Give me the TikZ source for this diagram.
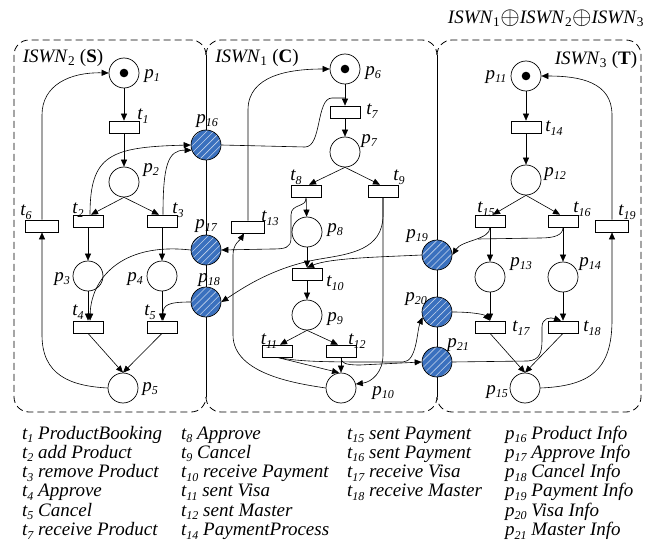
\documentclass[tikz,border=0pt]{standalone}
\usepackage{fontspec}
\setmainfont{Liberation Serif}
\usetikzlibrary{arrows.meta,patterns.meta}
\definecolor{ifblue}{RGB}{58,112,190}
% italic name with a small, lowered italic index
\newcommand\lab[2]{#1\raisebox{-3.5pt}{\fontsize{12}{12}\selectfont #2}}
\newcommand\netname[2]{\textit{ISWN}\textsubscript{#1} (\textbf{#2})}
\tikzset{
  place/.style={circle,draw,line width=0.7pt,minimum size=30pt,inner sep=0pt},
  iplace/.style={place,preaction={fill=ifblue},
    pattern={Lines[angle=45,distance=5pt,line width=0.6pt]},pattern color=white!70!ifblue},
  trans/.style={rectangle,draw,line width=0.7pt,minimum width=30pt,minimum height=12pt,inner sep=0pt},
  arc/.style={line width=0.6pt,-{Triangle[length=7pt,width=6pt]}},
  link/.style={line width=0.6pt},
  lbl/.style={font=\itshape\fontsize{19}{19}\selectfont,inner sep=0pt},
  leg/.style={lbl,anchor=base west},
  hdr/.style={font=\fontsize{19}{19}\selectfont,inner sep=0pt},
  netbox/.style={dash pattern=on 7pt off 4pt,line width=0.8pt,rounded corners=15pt},
  border/.style={line width=0.7pt},
}
\begin{document}
\begin{tikzpicture}[x=1pt,y=1pt]
\useasboundingbox (0,0) rectangle (654,-543);

% --- module frames: dashed outer sides, shared solid borders
\draw[netbox] (206,-55) |- (14,-40) |- (206,-412) -- (206,-397);
\draw[netbox] (206,-55) |- (437,-40) -- (437,-55);
\draw[netbox] (206,-397) |- (437,-412) -- (437,-397);
\draw[netbox] (437,-55) |- (641,-40) |- (437,-412) -- (437,-397);
\draw[border] (206,-55) -- (206,-397);
\draw[border] (437,-55) -- (437,-397);

\node[hdr] (title) at (546,-18)
  {\textit{ISWN}\textsubscript{1}\raisebox{-1pt}{\scalebox{1.45}{$\oplus$}}\textit{ISWN}\textsubscript{2}\raisebox{-1pt}{\scalebox{1.45}{$\oplus$}}\textit{ISWN}\textsubscript{3}};
\node[hdr] (nS) at (63,-58) {\netname{2}{S}};
\node[hdr] (nC) at (257,-58) {\netname{1}{C}};
\node[hdr] (nT) at (596,-60) {\netname{3}{T}};

% --- places
\node[place] (p1) at (124,-73) {};
\node[place] (p2) at (124,-182) {};
\node[place] (p3) at (88,-276) {};
\node[place] (p4) at (162,-276) {};
\node[place] (p5) at (123,-388) {};
\node[place] (p6) at (345,-69) {};
\node[place] (p7) at (345,-152) {};
\node[place] (p8) at (307,-232) {};
\node[place] (p9) at (307,-315) {};
\node[place] (p10) at (341,-388) {};
\node[place] (p11) at (526,-76) {};
\node[place] (p12) at (526,-180) {};
\node[place] (p13) at (490,-277) {};
\node[place] (p14) at (563,-277) {};
\node[place] (p15) at (525,-388) {};
\node[iplace] (p16) at (206,-145) {};
\node[iplace] (p17) at (206,-250) {};
\node[iplace] (p18) at (206,-302) {};
\node[iplace] (p19) at (437,-255) {};
\node[iplace] (p20) at (437,-312) {};
\node[iplace] (p21) at (437,-362) {};
\foreach \p in {p1,p6,p11} \fill (\p) circle (4.3pt);

% --- transitions
\node[trans] (t1) at (124,-127) {};
\node[trans] (t2) at (88,-221) {};
\node[trans] (t3) at (162,-221) {};
\node[trans] (t4) at (88,-327) {};
\node[trans] (t5) at (162,-327) {};
\node[trans,minimum width=33pt] (t6) at (42,-226) {};
\node[trans] (t7) at (345,-112) {};
\node[trans] (t8) at (306,-191) {};
\node[trans] (t9) at (383,-191) {};
\node[trans] (t10) at (307,-274) {};
\node[trans] (t11) at (277,-351) {};
\node[trans] (t12) at (341,-351) {};
\node[trans,minimum width=33pt] (t13) at (248,-227) {};
\node[trans] (t14) at (526,-127) {};
\node[trans] (t15) at (490,-221) {};
\node[trans] (t16) at (563,-221) {};
\node[trans] (t17) at (490,-327) {};
\node[trans] (t18) at (563,-327) {};
\node[trans,minimum width=33pt] (t19) at (612,-226) {};

% --- labels
\node[lbl] (lp1) at (152,-76) {\lab{p}{1}};
\node[lbl] (lp2) at (151,-170) {\lab{p}{2}};
\node[lbl] (lp3) at (62,-279) {\lab{p}{3}};
\node[lbl] (lp4) at (135,-279) {\lab{p}{4}};
\node[lbl] (lp5) at (150,-389) {\lab{p}{5}};
\node[lbl] (lp6) at (373,-73) {\lab{p}{6}};
\node[lbl] (lp7) at (369,-141) {\lab{p}{7}};
\node[lbl] (lp8) at (335,-230) {\lab{p}{8}};
\node[lbl] (lp9) at (335,-319) {\lab{p}{9}};
\node[lbl] (lp10) at (383,-393) {\lab{p}{10}};
\node[lbl] (lp11) at (496,-77) {\lab{p}{11}};
\node[lbl] (lp12) at (555,-174) {\lab{p}{12}};
\node[lbl] (lp13) at (521,-264) {\lab{p}{13}};
\node[lbl] (lp14) at (590,-264) {\lab{p}{14}};
\node[lbl] (lp15) at (497,-392) {\lab{p}{15}};
\node[lbl] (lp16) at (207,-121) {\lab{p}{16}};
\node[lbl] (lp17) at (206,-226) {\lab{p}{17}};
\node[lbl] (lp18) at (209,-280) {\lab{p}{18}};
\node[lbl] (lp19) at (417,-236) {\lab{p}{19}};
\node[lbl] (lp20) at (416,-299) {\lab{p}{20}};
\node[lbl] (lp21) at (458,-345) {\lab{p}{21}};
\node[lbl] (lt1) at (143,-116) {\lab{t}{1}};
\node[lbl] (lt2) at (78,-210) {\lab{t}{2}};
\node[lbl] (lt3) at (178,-210) {\lab{t}{3}};
\node[lbl] (lt4) at (78,-312) {\lab{t}{4}};
\node[lbl] (lt5) at (150,-312) {\lab{t}{5}};
\node[lbl] (lt6) at (26,-212) {\lab{t}{6}};
\node[lbl] (lt7) at (372,-111) {\lab{t}{7}};
\node[lbl] (lt8) at (296,-177) {\lab{t}{8}};
\node[lbl] (lt9) at (399,-177) {\lab{t}{9}};
\node[lbl] (lt10) at (335,-283) {\lab{t}{10}};
\node[lbl] (lt11) at (269,-341) {\lab{t}{11}};
\node[lbl] (lt12) at (357,-341) {\lab{t}{12}};
\node[lbl] (lt13) at (270,-218) {\lab{t}{13}};
\node[lbl] (lt14) at (554,-128) {\lab{t}{14}};
\node[lbl] (lt15) at (486,-209) {\lab{t}{15}};
\node[lbl] (lt16) at (582,-209) {\lab{t}{16}};
\node[lbl] (lt17) at (521,-328) {\lab{t}{17}};
\node[lbl] (lt18) at (592,-328) {\lab{t}{18}};
\node[lbl] (lt19) at (627,-212) {\lab{t}{19}};

% --- arcs of ISWN2 (S)
\draw[arc] (p1) -- (t1);
\draw[arc] (t1) -- (p2);
\draw[arc] (p2.south) -- ([xshift=3pt]t2.north);
\draw[arc] (p2.south) -- ([xshift=-3pt]t3.north);
\draw[arc] (t2) -- (p3);
\draw[arc] (t3) -- (p4);
\draw[arc] (p3) -- (t4);
\draw[arc] (p4) -- (t5);
\draw[arc] (t4.south) -- (p5.north);
\draw[arc] (t5.south) -- (p5.north);
\draw[arc] (p5.west) .. controls (70,-386) and (42,-375) .. (42,-335) -- (t6.south);
\draw[arc] (t6.north) -- (42,-115) .. controls (42,-85) and (70,-72) .. (p1.west);
\draw[arc] ([xshift=2pt]t2.north) .. controls (90,-155) and (110,-147) .. (p16.west);
\draw[arc] ([xshift=1pt]t3.north) .. controls (163,-165) and (168,-150) .. (p16.200);
\draw[arc] (p17.west) .. controls (120,-242) and (91,-280) .. ([xshift=2pt]t4.north);
\draw[arc] (p18.west) .. controls (168,-302) and (163,-305) .. ([xshift=1pt]t5.north);

% --- arcs of ISWN1 (C)
\draw[arc] (p6) -- (t7);
\draw[arc] (t7) -- (p7);
\draw[arc] (p7.south) -- ([xshift=3pt]t8.north);
\draw[arc] (p7.south) -- ([xshift=-3pt]t9.north);
\draw[arc] (t8) -- (p8);
\draw[arc] (p8) -- (t10);
\draw[arc] (t10) -- (p9);
\draw[arc] (p9.south) -- ([xshift=3pt]t11.north);
\draw[arc] (p9.south) -- ([xshift=-3pt]t12.north);
\draw[link] (p16.east) -- (305,-147) .. controls (322,-147) and (316,-98) .. (332,-98) -- (345,-98);
\draw[arc] (t13.north) -- (248,-110) .. controls (248,-75) and (290,-69) .. (p6.west);
\draw[arc] (t8.south) .. controls (307,-208) and (291,-203) .. (291,-215) -- (291,-238)
  .. controls (291,-248) and (285,-249) .. (272,-249) -- (p17.east);
\draw[arc] (t9.south) -- (383,-215) .. controls (383,-250) and (350,-254) .. (320,-259)
  .. controls (272,-267) and (240,-290) .. (p18.east);
\draw[arc] (p19.west) .. controls (380,-257) and (330,-258) .. (t10.north);
\draw[arc] (t9.south) -- (383,-355) .. controls (383,-372) and (372,-382) .. (p10.15);
\draw[arc] (t11.south) -- ([xshift=-2pt]p10.north);
\draw[arc] (t12.south) -- (p10.north);
\draw[arc] (p10.west) .. controls (300,-384) and (233,-375) .. (233,-335) -- (233,-255)
  .. controls (233,-244) and (240,-240) .. ([xshift=-4pt]t13.south);
\draw[arc] (t11.south) .. controls (300,-362) and (330,-362) .. (380,-362) -- (403,-362)
  .. controls (417,-362) and (417,-330) .. (p20.200);
\draw[arc] (t12.south) .. controls (341,-363) and (345,-365) .. (360,-365) -- (p21.west);

% --- arcs of ISWN3 (T)
\draw[arc] (p11) -- (t14);
\draw[arc] (t14) -- (p12);
\draw[arc] (p12.south) -- ([xshift=3pt]t15.north);
\draw[arc] (p12.south) -- ([xshift=-3pt]t16.north);
\draw[arc] (t15) -- (p13);
\draw[arc] (t16) -- (p14);
\draw[arc] (p13) -- (t17);
\draw[arc] (p14) -- (t18);
\draw[arc] (t17.south) -- (p15.north);
\draw[arc] (t18.south) -- (p15.north);
\draw[arc] (p15.east) .. controls (590,-386) and (612,-370) .. (612,-320) -- (t19.south);
\draw[arc] (t19.north) -- (612,-115) .. controls (612,-82) and (580,-76) .. (p11.east);
\draw[arc] (t15.south) .. controls (490,-240) and (462,-240) .. (p19.east);
\draw[link] (t16.south) .. controls (563,-235) and (555,-238) .. (540,-238) -- (478,-239);
\draw[arc] (p20.east) .. controls (475,-312) and (485,-315) .. (t17.north);
\draw[arc] (p21.east) -- (528,-361) .. controls (540,-360) and (542,-352) .. (542,-340) -- (542,-327)
  .. controls (542,-318) and (550,-317) .. ([xshift=-2pt]t18.north);

% --- legend
\node[leg] (g1) at (22,-439) {\lab{t}{1} ProductBooking};
\node[leg] (g2) at (22,-458.3) {\lab{t}{2} add Product};
\node[leg] (g3) at (22,-477.6) {\lab{t}{3} remove Product};
\node[leg] (g4) at (22,-496.9) {\lab{t}{4} Approve};
\node[leg] (g5) at (22,-516.2) {\lab{t}{5} Cancel};
\node[leg] (g6) at (22,-535.5) {\lab{t}{7} receive Product};
\node[leg] (g7) at (181,-439) {\lab{t}{8} Approve};
\node[leg] (g8) at (181,-458.3) {\lab{t}{9} Cancel};
\node[leg] (g9) at (181,-477.6) {\lab{t}{10} receive Payment};
\node[leg] (g10) at (181,-496.9) {\lab{t}{11} sent Visa};
\node[leg] (g11) at (181,-516.2) {\lab{t}{12} sent Master};
\node[leg] (g12) at (181,-535.5) {\lab{t}{14} PaymentProcess};
\node[leg] (g13) at (347,-439) {\lab{t}{15} sent Payment};
\node[leg] (g14) at (347,-458.3) {\lab{t}{16} sent Payment};
\node[leg] (g15) at (347,-477.6) {\lab{t}{17} receive Visa};
\node[leg] (g16) at (347,-496.9) {\lab{t}{18} receive Master};
\node[leg] (g17) at (505,-439) {\lab{p}{16} Product Info};
\node[leg] (g18) at (505,-458.3) {\lab{p}{17} Approve Info};
\node[leg] (g19) at (505,-477.6) {\lab{p}{18} Cancel Info};
\node[leg] (g20) at (505,-496.9) {\lab{p}{19} Payment Info};
\node[leg] (g21) at (505,-516.2) {\lab{p}{20} Visa Info};
\node[leg] (g22) at (505,-535.5) {\lab{p}{21} Master Info};
\end{tikzpicture}
\end{document}
